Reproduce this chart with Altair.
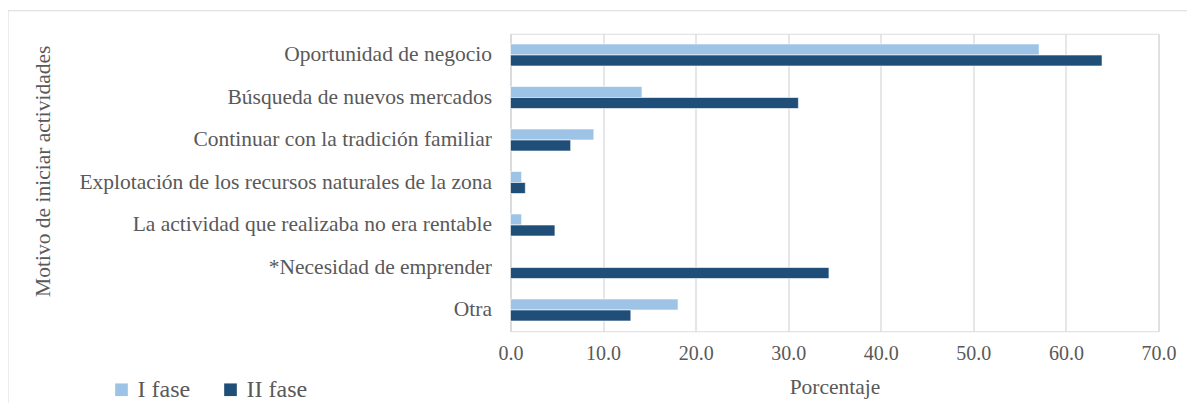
import altair as alt
import pandas as pd

categories = [
    "Oportunidad de negocio",
    "Búsqueda de nuevos mercados",
    "Continuar con la tradición familiar",
    "Explotación de los recursos naturales de la zona",
    "La actividad que realizaba no era rentable",
    "*Necesidad de emprender",
    "Otra",
]
fase_1 = [57.1, 14.2, 9.0, 1.2, 1.2, None, 18.1]
fase_2 = [63.9, 31.1, 6.5, 1.6, 4.8, 34.4, 13.0]
series = ["I fase", "II fase"]
colors = ["#9DC3E6", "#1F4E79"]
x_ticks = [0, 10, 20, 30, 40, 50, 60, 70]

rows = []
for c, a, b in zip(categories, fase_1, fase_2):
    if a is not None:
        rows.append({"Motivo": c, "Fase": series[0], "Valor": a})
    if b is not None:
        rows.append({"Motivo": c, "Fase": series[1], "Valor": b})
df = pd.DataFrame(rows)

FONT = "Liberation Serif"
GRAY = "#595959"

bars = alt.Chart(df).mark_bar(stroke="white", strokeWidth=0.6).encode(
    x=alt.X(
        "Valor:Q",
        scale=alt.Scale(domain=[0, 70], nice=False),
        axis=alt.Axis(
            values=x_ticks,
            format=".1f",
            title="Porcentaje",
            grid=True,
            gridColor="#d9d9d9",
            gridWidth=1.3,
            domain=False,
            ticks=False,
            labelFlush=False,
            labelFont=FONT,
            labelFontSize=20,
            labelColor=GRAY,
            labelPadding=12,
            titleFont=FONT,
            titleFontSize=21.5,
            titleFontWeight="normal",
            titleColor=GRAY,
            titlePadding=13,
        ),
    ),
    y=alt.Y(
        "Motivo:N",
        sort=categories,
        scale=alt.Scale(paddingInner=0.482, paddingOuter=0.241),
        axis=alt.Axis(
            title="Motivo de iniciar actividades",
            domain=True,
            domainColor="#d9d9d9",
            domainWidth=1.3,
            ticks=False,
            labelFont=FONT,
            labelFontSize=21.5,
            labelColor=GRAY,
            labelPadding=19,
            labelLimit=500,
            titleFont=FONT,
            titleFontSize=21.5,
            titleFontWeight="normal",
            titleColor=GRAY,
            titleX=-467,
            titleY=137,
            titleAngle=270,
            titleAlign="center",
            titleBaseline="middle",
        ),
    ),
    yOffset=alt.YOffset("Fase:N", sort=series),
    color=alt.Color(
        "Fase:N",
        sort=series,
        scale=alt.Scale(domain=series, range=colors),
        legend=alt.Legend(
            title=None,
            orient="none",
            legendX=-401,
            legendY=344,
            direction="horizontal",
            symbolType="square",
            symbolSize=160,
            symbolStrokeWidth=0,
            labelFont=FONT,
            labelFontSize=24,
            labelColor=GRAY,
            labelOffset=4,
            columnPadding=28,
            padding=0,
        ),
    ),
)

frame = alt.Chart(pd.DataFrame({"k": [0]})).mark_rect(
    fill=None, stroke="#d9d9d9", strokeWidth=1
).encode(
    x=alt.value(-502.5), x2=alt.value(700), y=alt.value(-23), y2=alt.value(400)
)

chart = alt.layer(frame, bars).properties(
    width=648,
    height=297.5,
    autosize="none",
    padding={"left": 502.5, "top": 25.75, "right": 28, "bottom": 71.5},
).configure_view(stroke=None).configure(background="white")

chart.save("out.html", embed_options={"renderer": "svg", "actions": False})
